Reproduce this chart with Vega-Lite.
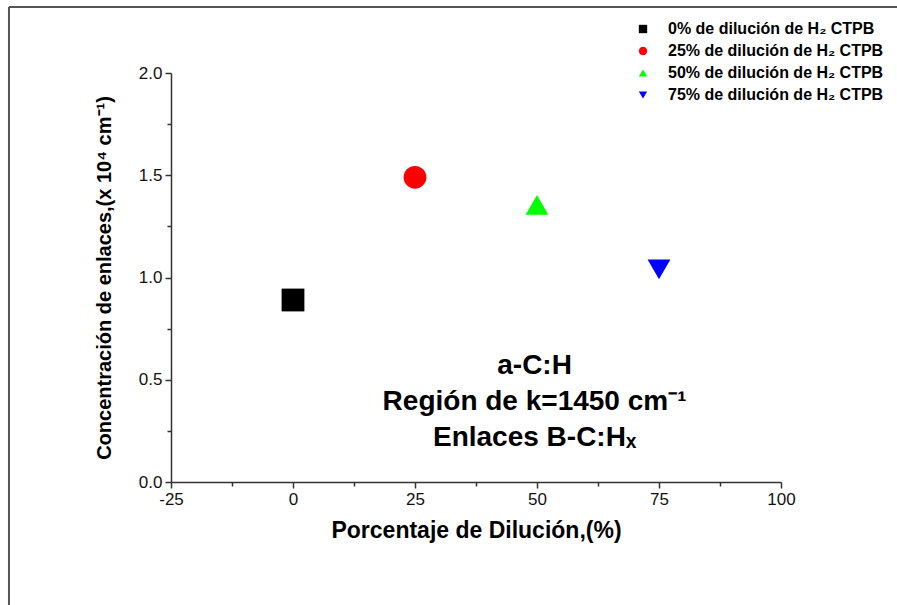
{
  "$schema": "https://vega.github.io/schema/vega-lite/v6.json",
  "width": 610,
  "height": 409,
  "autosize": {"type": "none"},
  "padding": {"left": 171, "top": 73, "right": 116, "bottom": 123},
  "background": "white",
  "config": {
    "view": {"stroke": null},
    "font": "Liberation Sans",
    "axis": {"labelFont": "Liberation Sans", "titleFont": "Liberation Sans", "grid": false, "domainColor": "#333", "tickColor": "#333", "labelColor": "#111", "titleColor": "#000"}
  },
  "datasets": {
    "puntos": [
      {"dilucion": 0, "concentracion": 0.89, "serie": "0% de dilución de H₂ CTPB"},
      {"dilucion": 25, "concentracion": 1.49, "serie": "25% de dilución de H₂ CTPB"},
      {"dilucion": 50, "concentracion": 1.355, "serie": "50% de dilución de H₂ CTPB"},
      {"dilucion": 75, "concentracion": 1.04, "serie": "75% de dilución de H₂ CTPB"}
    ]
  },
  "layer": [
    {
      "data": {"name": "puntos"},
      "mark": {"type": "point", "filled": true, "opacity": 1, "size": 520},
      "encoding": {
        "x": {"field": "dilucion", "type": "quantitative",
          "scale": {"domain": [-25, 100], "nice": false, "zero": false},
          "axis": {"orient": "bottom", "values": [-25, -12.5, 0, 12.5, 25, 37.5, 50, 62.5, 75, 87.5, 100], "labelExpr": "datum.value % 25 === 0 ? toString(datum.value) : ''", "title": "Porcentaje de Dilución,(%)", "titleFontSize": 23, "titleFontWeight": "bold", "titlePadding": 12, "labelFontSize": 17, "labelPadding": 3, "tickSize": {"condition": {"test": "datum.value % 25 === 0", "value": 6}, "value": 4}, "domainWidth": 1.5, "tickWidth": 1.5, "labelFlush": false, "labelOverlap": false}},
        "y": {"field": "concentracion", "type": "quantitative",
          "scale": {"domain": [0, 2], "nice": false, "zero": false},
          "axis": {"orient": "left", "values": [0, 0.25, 0.5, 0.75, 1, 1.25, 1.5, 1.75, 2], "labelExpr": "datum.value % 0.5 === 0 ? format(datum.value, '.1f') : ''", "title": "Concentración de enlaces,(x 10⁴ cm⁻¹)", "titleFontSize": 20, "titleFontWeight": "bold", "titlePadding": 24, "labelFontSize": 17, "labelPadding": 3, "tickSize": {"condition": {"test": "datum.value % 0.5 === 0", "value": 6}, "value": 4}, "domainWidth": 1.5, "tickWidth": 1.5, "labelOverlap": false}},
        "color": {"field": "serie", "type": "nominal",
          "scale": {"domain": ["0% de dilución de H₂ CTPB", "25% de dilución de H₂ CTPB", "50% de dilución de H₂ CTPB", "75% de dilución de H₂ CTPB"], "range": ["#000000", "#ff0000", "#00ff00", "#0000ff"]},
          "legend": {"title": null, "orient": "none", "legendX": 464, "legendY": -52, "symbolSize": 70, "labelFontSize": 16, "labelFontWeight": "bold", "labelFont": "Liberation Sans", "labelColor": "#000", "labelLimit": 400, "rowPadding": 6, "labelOffset": 17, "symbolStrokeWidth": 0}},
        "shape": {"field": "serie", "type": "nominal",
          "scale": {"domain": ["0% de dilución de H₂ CTPB", "25% de dilución de H₂ CTPB", "50% de dilución de H₂ CTPB", "75% de dilución de H₂ CTPB"], "range": ["square", "circle", "triangle-up", "triangle-down"]},
          "legend": null}
      }
    },
    {
      "data": {"values": [{}]},
      "mark": {"type": "text", "text": ["a-C:H", "Región de k=1450 cm⁻¹", "Enlaces B-C:Hₓ"], "font": "Liberation Sans", "fontSize": 28, "fontWeight": "bold", "align": "center", "baseline": "middle", "lineHeight": 36, "color": "#000"},
      "encoding": {"x": {"datum": 49.5}, "y": {"datum": 0.567}}
    },
    {
      "data": {"values": [{}]},
      "mark": {"type": "rule", "clip": false, "color": "#555", "strokeWidth": 2},
      "encoding": {"x": {"datum": -58.2}, "y": {"datum": 2.323}, "y2": {"datum": -0.7}}
    },
    {
      "data": {"values": [{}]},
      "mark": {"type": "rule", "clip": false, "color": "#555", "strokeWidth": 2},
      "encoding": {"x": {"datum": -58.2}, "x2": {"datum": 130}, "y": {"datum": 2.323}}
    }
  ]
}
